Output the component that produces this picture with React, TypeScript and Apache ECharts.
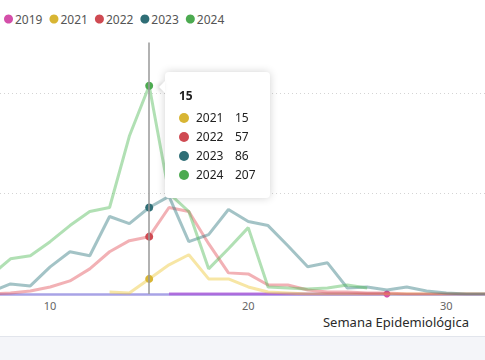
import React, { useEffect, useRef } from "react";
import * as echarts from "echarts";

const WEEKS = [7, 8, 9, 10, 11, 12, 13, 14, 15, 16, 17, 18, 19, 20, 21, 22, 23, 24, 25, 26, 27, 28, 29, 30, 31, 32];
const SERIES_NAMES = ["2019", "2021", "2022", "2023", "2024"];
const SERIES_COLORS = ["#d44fa9", "#d8b533", "#cf4a52", "#2f6e76", "#4caa50"];
const Y2019 = [null, null, null, null, null, null, null, null, null, 0, 0, 0, 0, 0, 0, 0, 0, 0, 0, 0, 0, null, null, null, null, null];
const Y2021 = [null, null, null, null, null, null, 2, 1, 15, 29, 39, 15, 15, 7, 2, 1, 0, 0, 0, 0, 0, 0, 0, 0, 0, 0];
const Y2022 = [0, 1, 3, 7, 13, 25, 42, 53, 57, 86, 82, 50, 21, 20, 9, 9, 4, 2, 2, 1, 1, 0, 0, 0, 0, 0];
const Y2023 = [2, 10, 8, 27, 42, 38, 77, 70, 86, 97, 52, 59, 84, 72, 68, 48, 27, 31, 6, 7, 4, 7, 3, 1, 0, 0];
const Y2024 = [18, 35, 38, 52, 68, 82, 86, 157, 207, 100, 82, 25, 45, 66, 7, 6, 5, 6, 9, 6, null, null, null, null, null, null];
const X_TICK_INTERVAL = 10;
const Y_TICK_INTERVAL = 100;
const AXIS_NAME = "Semana Epidemiológica";
const TIP_WEEK = 15;
const MARK_2019_WEEK = 27;

const FONT = "'Noto Sans', sans-serif";

export default function App() {
  const ref = useRef<HTMLDivElement>(null);

  useEffect(() => {
    if (!ref.current) return;
    const chart = echarts.init(ref.current, undefined, { renderer: "svg" });
    const all = [Y2019, Y2021, Y2022, Y2023, Y2024];
    const markIdx = WEEKS.indexOf(MARK_2019_WEEK);

    const series: any[] = all.map((vals, i) => ({
      name: SERIES_NAMES[i],
      type: "line",
      data: WEEKS.map((w, k) => [w, vals[k]]),
      symbol: "circle",
      showSymbol: i === 0,
      symbolSize: i === 0 ? (_v: any, p: any) => (p.dataIndex === markIdx ? 7 : 0) : 8,
      color: SERIES_COLORS[i],
      itemStyle: { color: SERIES_COLORS[i], opacity: 1 },
      lineStyle:
        i === 0
          ? { width: 3, opacity: 0.8, color: "#9c55c6" }
          : { width: 3, opacity: 0.45, color: SERIES_COLORS[i] },
      emphasis: { disabled: false, scale: false, lineStyle: { width: 3 } },
      connectNulls: false,
      z: 2 + i,
    }));

    const arrow =
      '<div style="position:absolute;left:-6px;top:9px;width:0;height:0;border-top:6px solid transparent;border-bottom:6px solid transparent;border-right:6px solid #fff;filter:drop-shadow(-2px 0 2px rgba(0,0,0,0.18))"></div>';

    chart.setOption({
      animation: false,
      backgroundColor: "#ffffff",
      textStyle: { fontFamily: FONT },
      legend: {
        data: SERIES_NAMES,
        left: 4,
        top: 13,
        padding: 0,
        icon: "circle",
        itemWidth: 9,
        itemHeight: 9,
        itemGap: 7,
        textStyle: { fontSize: 12, color: "#555", fontFamily: FONT, padding: [0, 0, 0, -3] },
      },
      grid: { left: -148, right: -1, top: 42.5, bottom: 42, outerBoundsMode: "none", containLabel: false },
      tooltip: {
        trigger: "axis",
        triggerOn: "none",
        alwaysShowContent: true,
        position: [165, 72],
        padding: 14,
        backgroundColor: "#fff",
        borderWidth: 0,
        extraCssText: "box-shadow:0 0 9px rgba(0,0,0,0.18);border-radius:4px;line-height:19px;",
        textStyle: { fontSize: 12, color: "#222", fontFamily: FONT },
        axisPointer: { type: "line", lineStyle: { color: "#999", width: 1.5, type: "solid" } },
        formatter: (params: any) => {
          const ps = (Array.isArray(params) ? params : [params]).filter(
            (p: any) => p.value && p.value[1] !== null && p.value[1] !== undefined
          );
          let html = arrow;
          html += `<div style="font-weight:700;height:19px;margin-bottom:3px">${ps.length ? ps[0].value[0] : ""}</div>`;
          ps.forEach((p: any) => {
            html += `<div style="display:flex;align-items:center;height:19px"><span style="display:inline-block;width:10px;height:10px;border-radius:50%;background:${p.color};margin-right:7px"></span><span style="display:inline-block;width:39px">${p.seriesName}</span><span>${p.value[1]}</span></div>`;
          });
          return html;
        },
      },
      xAxis: {
        type: "value",
        min: 0,
        max: 32,
        interval: X_TICK_INTERVAL,
        name: AXIS_NAME,
        nameLocation: "end",
        nameGap: -17,
        nameTextStyle: {
          fontSize: 13,
          color: "#2a2a2a",
          align: "right",
          verticalAlign: "top",
          padding: [21, 0, 0, 0],
          fontFamily: FONT,
        },
        axisLine: { show: true, lineStyle: { color: "#a8a3e6", width: 2.5 } },
        axisTick: { show: false },
        splitLine: { show: false },
        axisLabel: { fontSize: 11, color: "#666", margin: 6, fontFamily: FONT, showMaxLabel: false, showMinLabel: false },
      },
      yAxis: {
        type: "value",
        min: 0,
        max: 250,
        interval: Y_TICK_INTERVAL,
        axisLine: { show: false },
        axisTick: { show: false },
        axisLabel: { show: false },
        splitLine: {
          show: true,
          showMinLine: false,
          showMaxLine: false,
          lineStyle: { color: "#d4d4d4", type: [1, 3], width: 1 },
        },
      },
      series,
    });

    const tipIdx = WEEKS.indexOf(TIP_WEEK);
    const show = () => chart.dispatchAction({ type: "showTip", seriesIndex: 4, dataIndex: tipIdx });
    show();
    const t = setTimeout(show, 50);

    return () => {
      clearTimeout(t);
      chart.dispose();
    };
  }, []);

  return (
    <div style={{ position: "fixed", left: 0, top: 0, width: 485, height: 360, background: "#fff", overflow: "hidden" }}>
      <div style={{ position: "absolute", left: 0, top: 1, width: 485, height: 1, background: "#e6e6e9" }} />
      <div ref={ref} style={{ position: "absolute", left: 0, top: 0, width: 485, height: 336 }} />
      <div
        style={{
          position: "absolute",
          left: 0,
          top: 336,
          width: 485,
          height: 24,
          background: "#f4f5f9",
          borderTop: "1px solid #e2e5ec",
        }}
      />
    </div>
  );
}
